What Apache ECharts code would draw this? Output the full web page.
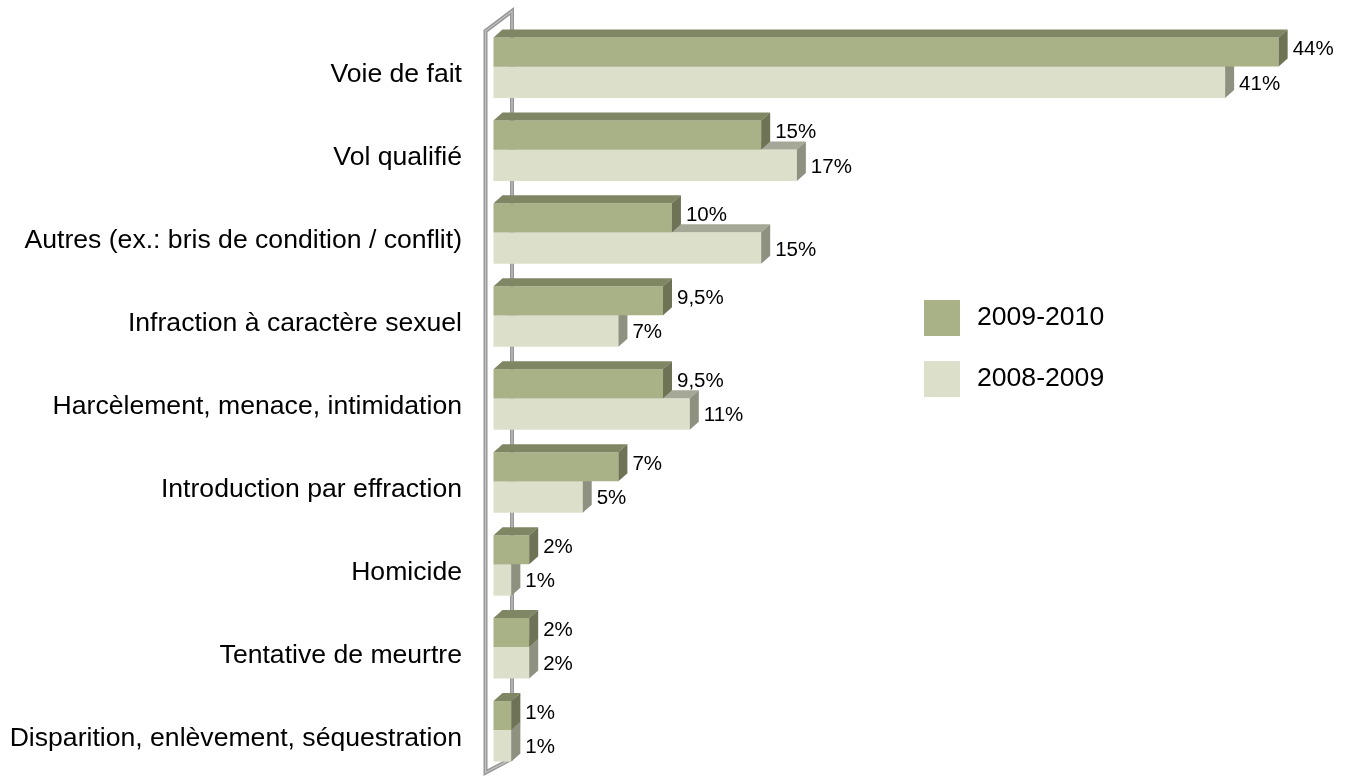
<!DOCTYPE html>
<html>
<head>
<meta charset="utf-8">
<script src="https://cdn.jsdelivr.net/npm/echarts@6/dist/echarts.min.js"></script>
<style>
html,body{margin:0;padding:0;background:#fff;}
#main{width:1349px;height:780px;}
</style>
</head>
<body>
<div id="main"></div>
<script>
const categories = [
  'Voie de fait',
  'Vol qualifié',
  'Autres (ex.: bris de condition / conflit)',
  'Infraction à caractère sexuel',
  'Harcèlement, menace, intimidation',
  'Introduction par effraction',
  'Homicide',
  'Tentative de meurtre',
  'Disparition, enlèvement, séquestration'
];
const values2010 = [44, 15, 10, 9.5, 9.5, 7, 2, 2, 1];
const values2009 = [41, 17, 15, 7, 11, 5, 1, 2, 1];
const seriesNames = ['2009-2010', '2008-2009'];

const FONT = "'Liberation Sans', Arial, sans-serif";
const DX = 9, DY = 8;

const palettes = {
  dark:  { front: '#a9b287', top: '#7f8664', side: '#6d7354' },
  light: { front: '#dcdfca', top: '#a6a897', side: '#8e9080' }
};

function fmt(v) { return String(v).replace('.', ',') + '%'; }

function makeRender(kind) {
  const pal = palettes[kind];
  return function (params, api) {
    const i = api.value(0), v = api.value(1);
    const p0 = api.coord([0, i]);
    const p1 = api.coord([v, i]);
    const x0 = p0[0], xe = p1[0], yc = p0[1];
    let yt, yb, ly;
    if (kind === 'dark') { yt = yc - 37.5; yb = yc - 8.5; ly = yc - 25.5; }
    else { yt = yc - 8.5; yb = yc + 23; ly = yc + 9; }
    return {
      type: 'group',
      children: [
        { type: 'rect', shape: { x: x0, y: yt, width: xe - x0, height: yb - yt }, style: { fill: pal.front } },
        { type: 'polygon', shape: { points: [[x0, yt], [x0 + DX, yt - DY], [xe + DX, yt - DY], [xe, yt]] }, style: { fill: pal.top } },
        { type: 'polygon', shape: { points: [[xe, yt], [xe + DX, yt - DY], [xe + DX, yb - DY], [xe, yb]] }, style: { fill: pal.side } },
        { type: 'text', x: xe + DX + 5, y: ly, style: { text: fmt(v), fill: '#000', fontSize: 20.5, fontFamily: FONT, align: 'left', verticalAlign: 'middle' } }
      ]
    };
  };
}

function renderWall(params, api) {
  const cs = params.coordSys;
  const gx = cs.x, gy = cs.y, gb = cs.y + cs.height;
  const pts = [
    [gx + 18.5, gb - 21.4],
    [gx + 18.5, gy - 22.4],
    [gx - 8, gy - 2.4],
    [gx - 8, gb - 7.4],
    [gx + 18.5, gb - 21.4]
  ];
  return {
    type: 'group',
    children: [
      { type: 'polyline', shape: { points: pts }, style: { stroke: '#969696', lineWidth: 4, fill: null, lineJoin: 'miter' } },
      { type: 'polyline', shape: { points: pts }, style: { stroke: '#c4c4c4', lineWidth: 1.2, fill: null, lineJoin: 'miter' } }
    ]
  };
}

const chart = echarts.init(document.getElementById('main'), null, { renderer: 'canvas' });
chart.setOption({
  animation: false,
  backgroundColor: '#fff',
  grid: { left: 493.5, top: 33.5, height: 752, right: 52.5, containLabel: false },
  xAxis: { type: 'value', min: 0, max: 45, show: false },
  yAxis: {
    type: 'category', data: categories, inverse: true,
    axisLine: { show: false }, axisTick: { show: false }, splitLine: { show: false },
    axisLabel: { color: '#000', fontSize: 26.6, fontFamily: FONT, margin: 31.5 }
  },
  legend: {
    data: seriesNames, orient: 'vertical', left: 924, top: 300, padding: 0,
    itemWidth: 36, itemHeight: 36, itemGap: 25, icon: 'rect',
    textStyle: { color: '#000', fontSize: 26.6, fontFamily: FONT, padding: [0, 0, 0, 12] }
  },
  series: [
    { type: 'custom', name: 'wall', z: 1, data: [[0, 0]], renderItem: renderWall, silent: true },
    { type: 'custom', name: seriesNames[1], z: 2, itemStyle: { color: palettes.light.front },
      data: values2009.map((v, i) => [i, v]), renderItem: makeRender('light'), encode: { x: 1, y: 0 } },
    { type: 'custom', name: seriesNames[0], z: 3, itemStyle: { color: palettes.dark.front },
      data: values2010.map((v, i) => [i, v]), renderItem: makeRender('dark'), encode: { x: 1, y: 0 } }
  ]
});
</script>
</body>
</html>
